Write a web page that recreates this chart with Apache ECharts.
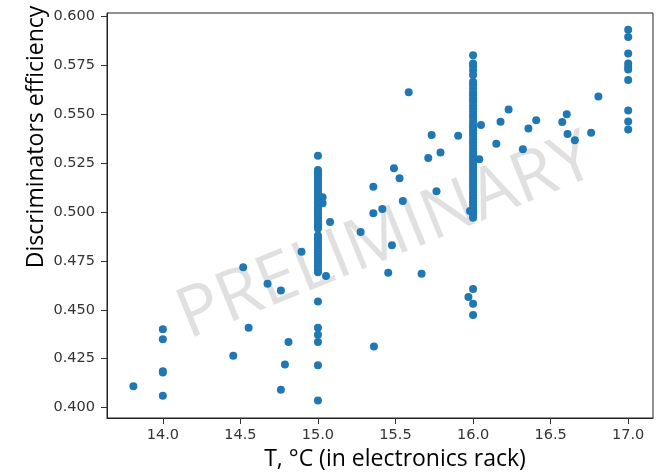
<!DOCTYPE html>
<html>
<head>
<meta charset="utf-8">
<script src="https://cdn.jsdelivr.net/npm/echarts@6/dist/echarts.min.js"></script>
<style>
html,body{margin:0;padding:0;background:#fff;}
#chart{width:669px;height:472px;}
</style>
</head>
<body>
<div id="chart"></div>
<script>
// Efficiency values measured at T = 14.0
const effAt14 = [0.4401, 0.4349, 0.4180, 0.4186, 0.4061];
// Efficiency values measured at T = 15.0
const effAt15 = [0.5287,
  0.5215, 0.5202, 0.5190, 0.5176, 0.5163, 0.5150, 0.5135, 0.5122, 0.5108, 0.5093, 0.5080, 0.5066,
  0.5050, 0.5037, 0.5022, 0.5008, 0.4994, 0.4980, 0.4966, 0.4950, 0.4937, 0.4925, 0.4915,
  0.4880, 0.4866, 0.4851, 0.4837, 0.4822, 0.4808, 0.4793, 0.4778, 0.4764, 0.4750, 0.4736, 0.4722, 0.4706, 0.4692,
  0.4542, 0.4408, 0.4372, 0.4335, 0.4216, 0.4036];
// Efficiency values measured at T = 16.0
const effAt16 = [0.5801, 0.5759, 0.5745, 0.5724, 0.5700, 0.5665, 0.5650, 0.5631, 0.5612, 0.5597, 0.5580,
  0.5565, 0.5546, 0.5530, 0.5512, 0.5495, 0.5480, 0.5462, 0.5444, 0.5430, 0.5418, 0.5402, 0.5388,
  0.5371, 0.5355, 0.5340, 0.5322, 0.5305, 0.5290, 0.5275, 0.5258, 0.5240, 0.5225, 0.5210, 0.5195,
  0.5178, 0.5162, 0.5148, 0.5133, 0.5117, 0.5100, 0.5085, 0.5070, 0.5054, 0.5040, 0.5024, 0.5010,
  0.4995, 0.4980, 0.4970, 0.4606, 0.4531, 0.4474];
// Efficiency values measured at T = 17.0
const effAt17 = [0.5932, 0.5894, 0.5810, 0.5759, 0.5741, 0.5728, 0.5675, 0.5519, 0.5463, 0.5422];
// Other measurements (temperature, efficiency)
const otherT = [13.81, 14.454, 14.518, 14.553, 14.675, 14.761, 14.787, 14.81, 14.761, 14.894,
  15.03, 15.03, 15.052, 15.078, 15.275, 15.357, 15.357, 15.361, 15.415, 15.453, 15.477, 15.49,
  15.526, 15.547, 15.585, 15.668, 15.711, 15.733, 15.764, 15.79, 15.904, 15.97, 15.98,
  16.04, 16.051, 16.15, 16.177, 16.229, 16.321, 16.357, 16.407, 16.575, 16.604, 16.609,
  16.656, 16.761, 16.808];
const otherEff = [0.4109, 0.4265, 0.4718, 0.4408, 0.4633, 0.4599, 0.4221, 0.4335, 0.4092, 0.4797,
  0.5075, 0.5045, 0.4673, 0.4949, 0.4898, 0.5129, 0.4993, 0.4313, 0.5015, 0.4689, 0.4830, 0.5224,
  0.5172, 0.5056, 0.5612, 0.4684, 0.5276, 0.5393, 0.5106, 0.5304, 0.5389, 0.4566, 0.5005,
  0.5269, 0.5444, 0.5349, 0.5461, 0.5524, 0.5321, 0.5427, 0.5469, 0.5460, 0.5500, 0.5398,
  0.5366, 0.5405, 0.5590];
const xTicks = [14.0, 14.5, 15.0, 15.5, 16.0, 16.5, 17.0];
const yTicks = [0.400, 0.425, 0.450, 0.475, 0.500, 0.525, 0.550, 0.575, 0.600];

const points = [];
effAt14.forEach(v => points.push([14.0, v]));
effAt15.forEach(v => points.push([15.0, v]));
effAt16.forEach(v => points.push([16.0, v]));
effAt17.forEach(v => points.push([17.0, v]));
otherT.forEach((t, i) => points.push([t, otherEff[i]]));

const chart = echarts.init(document.getElementById('chart'), null, {renderer: 'canvas'});
const tickFont = {fontFamily: 'DejaVu Sans', fontSize: 14.5, color: '#333'};
chart.setOption({
  animation: false,
  backgroundColor: '#fff',
  grid: {left: 107, top: 13, right: 16, bottom: 54, show: true, borderColor: '#222', borderWidth: 1},
  xAxis: {
    type: 'value', min: 13.64, max: 17.16,
    axisLine: {show: true, onZero: false, lineStyle: {color: '#222', width: 1}},
    axisTick: {show: true, length: 6, customValues: xTicks, lineStyle: {color: '#333'}},
    axisLabel: Object.assign({margin: 10, customValues: xTicks, formatter: v => v.toFixed(1)}, tickFont),
    splitLine: {show: false}
  },
  yAxis: {
    type: 'value', min: 0.3947, max: 0.6017,
    axisLine: {show: true, onZero: false, lineStyle: {color: '#222', width: 1}},
    axisTick: {show: true, length: 6, customValues: yTicks, lineStyle: {color: '#333'}},
    axisLabel: Object.assign({margin: 12, customValues: yTicks, formatter: v => v.toFixed(3)}, tickFont),
    splitLine: {show: false}
  },
  graphic: [
    {type: 'text', z: 0, x: 386, y: 238, rotation: 22 * Math.PI / 180,
     style: {text: 'PRELIMINARY', fontFamily: 'Open Sans', fontSize: 70, fill: '#e0e0e0',
             align: 'center', verticalAlign: 'middle'}},
    {type: 'text', z: 10, x: 36, y: 137, rotation: Math.PI / 2,
     style: {text: 'Discriminators efficiency', fontFamily: 'Open Sans', fontSize: 23, fill: '#000',
             align: 'center', verticalAlign: 'middle'}},
    {type: 'text', z: 10, x: 395, y: 459,
     style: {text: 'T, °C (in electronics rack)', fontFamily: 'Open Sans', fontSize: 23, fill: '#000',
             align: 'center', verticalAlign: 'middle'}}
  ],
  series: [{
    type: 'scatter', z: 5, data: points, symbolSize: 8,
    itemStyle: {color: '#1f77b4', opacity: 1}
  }]
});
</script>
</body>
</html>
